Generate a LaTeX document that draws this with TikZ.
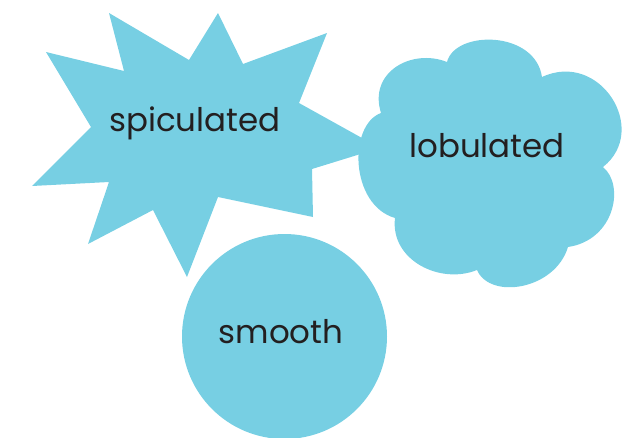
\documentclass[tikz,border=0pt]{standalone}
\usepackage{fontspec}
\setmainfont{Poppins}
\definecolor{shapeblue}{RGB}{119,207,227}
\definecolor{labelink}{RGB}{35,31,32}
\begin{document}
\begin{tikzpicture}[x=1pt,y=-1pt,
  blob/.style={fill=shapeblue,draw=none},
  lbl/.style={text=labelink,font=\fontsize{32.5}{38}\selectfont,inner sep=0pt}]
\useasboundingbox (0,0) rectangle (638,437);
% spiculated star
\path[blob] (109,13) -- (189,60) -- (218,13) -- (243,64) -- (327,33) -- (299,103)
  -- (380,148) -- (312,169) -- (313,217) -- (218,197) -- (187,277) -- (153,210)
  -- (88,244) -- (109,182) -- (32,186) -- (91,127) -- (46,52) -- (124,71) -- cycle;
% lobulated cloud
\path[blob] (381,113)
  .. controls (368,72) and (412,48) .. (447,62)
  .. controls (455,30) and (535,30) .. (542,77)
  .. controls (600,50) and (650,130) .. (603,167)
  .. controls (625,185) and (615,240) .. (568,247)
  .. controls (555,290) and (490,300) .. (477,270)
  .. controls (440,285) and (390,260) .. (395,218)
  .. controls (350,205) and (348,125) .. (381,113) -- cycle;
% smooth circle
\path[blob] (284.5,336.5) circle[radius=102.5];
\node[lbl] (spic) at (195,123) {spiculated};
\node[lbl] (lobu) at (487,146) {lobulated};
\node[lbl] (smoo) at (281,332) {smooth};
\end{tikzpicture}
\end{document}
